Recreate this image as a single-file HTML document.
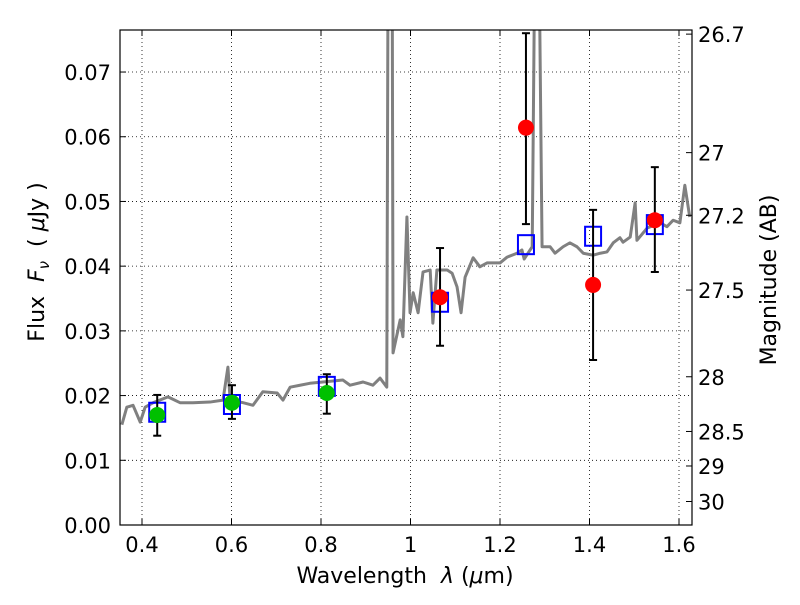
<!DOCTYPE html>
<html><head><meta charset="utf-8"><style>
body{margin:0;background:#fff}
svg text{font-family:"DejaVu Sans","Liberation Sans",sans-serif;fill:#000}
</style></head><body>
<svg id="chart" width="800" height="600" viewBox="0 0 800 600" xmlns="http://www.w3.org/2000/svg">
<defs><clipPath id="clip"><rect x="120" y="30" width="572" height="495"/></clipPath></defs>
<rect width="800" height="600" fill="#fff"/>
<g id="grid"></g>
<g id="plot" clip-path="url(#clip)"></g>
<g id="marks"></g>
<rect x="120" y="30" width="572" height="495" fill="none" stroke="#000" stroke-width="1.2"/>
<g id="axes"></g>
<text x="405" y="583" font-size="22" text-anchor="middle" xml:space="preserve">Wavelength  <tspan font-style="italic">λ</tspan> (<tspan font-style="italic">μ</tspan>m)</text>
<text transform="translate(44,262) rotate(-90)" font-size="22" text-anchor="middle" xml:space="preserve">Flux  <tspan font-style="italic">F</tspan><tspan font-style="italic" font-size="15" dy="5">ν</tspan><tspan dy="-5">  ( </tspan><tspan font-style="italic">μ</tspan>Jy )</text>
<text transform="translate(776,280) rotate(-90)" font-size="22" text-anchor="middle">Magnitude (AB)</text>
</svg>
<script>
const specWave=[0.355,0.366,0.380,0.396,0.407,0.425,0.458,0.485,0.514,0.552,0.581,0.592,0.597,0.626,0.648,0.670,0.702,0.715,0.731,0.753,0.775,0.804,0.849,0.865,0.894,0.916,0.932,0.947,0.950,0.959,0.961,0.977,0.983,0.992,0.999,1.006,1.017,1.028,1.044,1.050,1.059,1.082,1.093,1.104,1.113,1.122,1.140,1.155,1.171,1.200,1.216,1.238,1.249,1.254,1.272,1.278,1.287,1.294,1.312,1.323,1.341,1.356,1.372,1.386,1.408,1.424,1.439,1.453,1.468,1.475,1.491,1.502,1.506,1.529,1.558,1.573,1.587,1.602,1.613,1.624];
const specFlux=[0.0155,0.0182,0.0185,0.0159,0.0182,0.0189,0.0198,0.0189,0.0189,0.0190,0.0193,0.0244,0.0193,0.0189,0.0185,0.0206,0.0204,0.0193,0.0213,0.0216,0.0219,0.0221,0.0224,0.0216,0.0221,0.0216,0.0227,0.0213,0.09,0.09,0.0266,0.0317,0.0291,0.0476,0.0328,0.0359,0.0328,0.0391,0.0394,0.0312,0.0394,0.0394,0.0389,0.0368,0.0328,0.0383,0.0413,0.0399,0.0405,0.0405,0.0414,0.0420,0.0425,0.0411,0.0430,0.09,0.09,0.0430,0.0430,0.0420,0.0430,0.0436,0.0430,0.0420,0.0417,0.0420,0.0422,0.0436,0.0444,0.0437,0.0445,0.0498,0.0440,0.0459,0.0467,0.0461,0.0471,0.0467,0.0525,0.0476];
const modelWave=[0.434,0.601,0.813,1.066,1.258,1.408,1.546];
const modelFlux=[0.0175,0.0187,0.0215,0.0345,0.0434,0.0447,0.0465];
const greenWave=[0.434,0.601,0.813];
const greenFlux=[0.0170,0.0189,0.0204];
const greenHi=[0.0201,0.0216,0.0233];
const greenLo=[0.0138,0.0164,0.0172];
const redWave=[1.066,1.258,1.408,1.546];
const redFlux=[0.0352,0.0614,0.0371,0.0471];
const redHi=[0.0428,0.0760,0.0487,0.0553];
const redLo=[0.0277,0.0465,0.0255,0.0391];
const xTicks=[0.4,0.6,0.8,1.0,1.2,1.4,1.6];
const xTickLabels=["0.4","0.6","0.8","1","1.2","1.4","1.6"];
const yTicks=[0,0.01,0.02,0.03,0.04,0.05,0.06,0.07];
const yTickLabels=["0.00","0.01","0.02","0.03","0.04","0.05","0.06","0.07"];
const magTicks=[26.7,27,27.2,27.5,28,28.5,29,30];
const magTickLabels=["26.7","27","27.2","27.5","28","28.5","29","30"];

const NS="http://www.w3.org/2000/svg";
const X=v=>142+(v-0.4)*447.5;
const Y=v=>525-v*6471;
const magY=m=>Y(Math.pow(10,(23.9-m)/2.5));
function mk(tag,attrs,parent){const e=document.createElementNS(NS,tag);for(const k in attrs)e.setAttribute(k,attrs[k]);parent.appendChild(e);return e;}
const grid=document.getElementById('grid'),plot=document.getElementById('plot'),marks=document.getElementById('marks'),axes=document.getElementById('axes');

xTicks.forEach((t,i)=>{
  const x=X(t);
  const g=mk('line',{x1:x,x2:x,y1:30,y2:525,stroke:'#000','stroke-width':0.8,'stroke-dasharray':'1,3'},grid);
  
  
  mk('line',{x1:x,x2:x,y1:525,y2:519,stroke:'#000'},axes);
  mk('line',{x1:x,x2:x,y1:30,y2:36,stroke:'#000'},axes);
  const tx=mk('text',{x:x,y:552,'font-size':21,'text-anchor':'middle'},axes);
  tx.textContent=xTickLabels[i];
  
  
});
yTicks.forEach((t,i)=>{
  const y=Y(t);
  const g=mk('line',{x1:120,x2:692,y1:y,y2:y,stroke:'#000','stroke-width':0.8,'stroke-dasharray':'1,3'},grid);
  
  
  mk('line',{x1:120,x2:126,y1:y,y2:y,stroke:'#000'},axes);
  const tx=mk('text',{x:111,y:y+8,'font-size':21,'text-anchor':'end'},axes);
  tx.textContent=yTickLabels[i];
  
  
});
magTicks.forEach((m,i)=>{
  const y=magY(m);
  mk('line',{x1:692,x2:686,y1:y,y2:y,stroke:'#000'},axes);
  const tx=mk('text',{x:698,y:y+8,'font-size':21,'text-anchor':'start'},axes);
  tx.textContent=magTickLabels[i];
  
  
});

const spec=mk('polyline',{points:specWave.map((w,i)=>X(w)+','+Y(specFlux[i])).join(' '),fill:'none',stroke:'#808080','stroke-width':3,'stroke-linejoin':'round'},plot);



function errbar(w,lo,hi){
  const x=X(w);
  const g=mk('g',{stroke:'#000','stroke-width':2},marks);
  
  
  mk('line',{x1:x,x2:x,y1:Y(lo),y2:Y(hi)},g);
  mk('line',{x1:x-4,x2:x+4,y1:Y(lo),y2:Y(lo)},g);
  mk('line',{x1:x-4,x2:x+4,y1:Y(hi),y2:Y(hi)},g);
}
modelWave.forEach((w,i)=>{
  const r=mk('rect',{x:X(w)-8,y:Y(modelFlux[i])-9,width:16,height:19,fill:'none',stroke:'#0000ff','stroke-width':2},marks);
  
  
});
greenWave.forEach((w,i)=>{
  errbar(w,greenLo[i],greenHi[i]);
  const c=mk('circle',{cx:X(w),cy:Y(greenFlux[i]),r:8,fill:'#00c000'},marks);
  
  
});
redWave.forEach((w,i)=>{
  errbar(w,redLo[i],redHi[i]);
  const c=mk('circle',{cx:X(w),cy:Y(redFlux[i]),r:8,fill:'#ff0000'},marks);
  
  
});
</script>
</body></html>
